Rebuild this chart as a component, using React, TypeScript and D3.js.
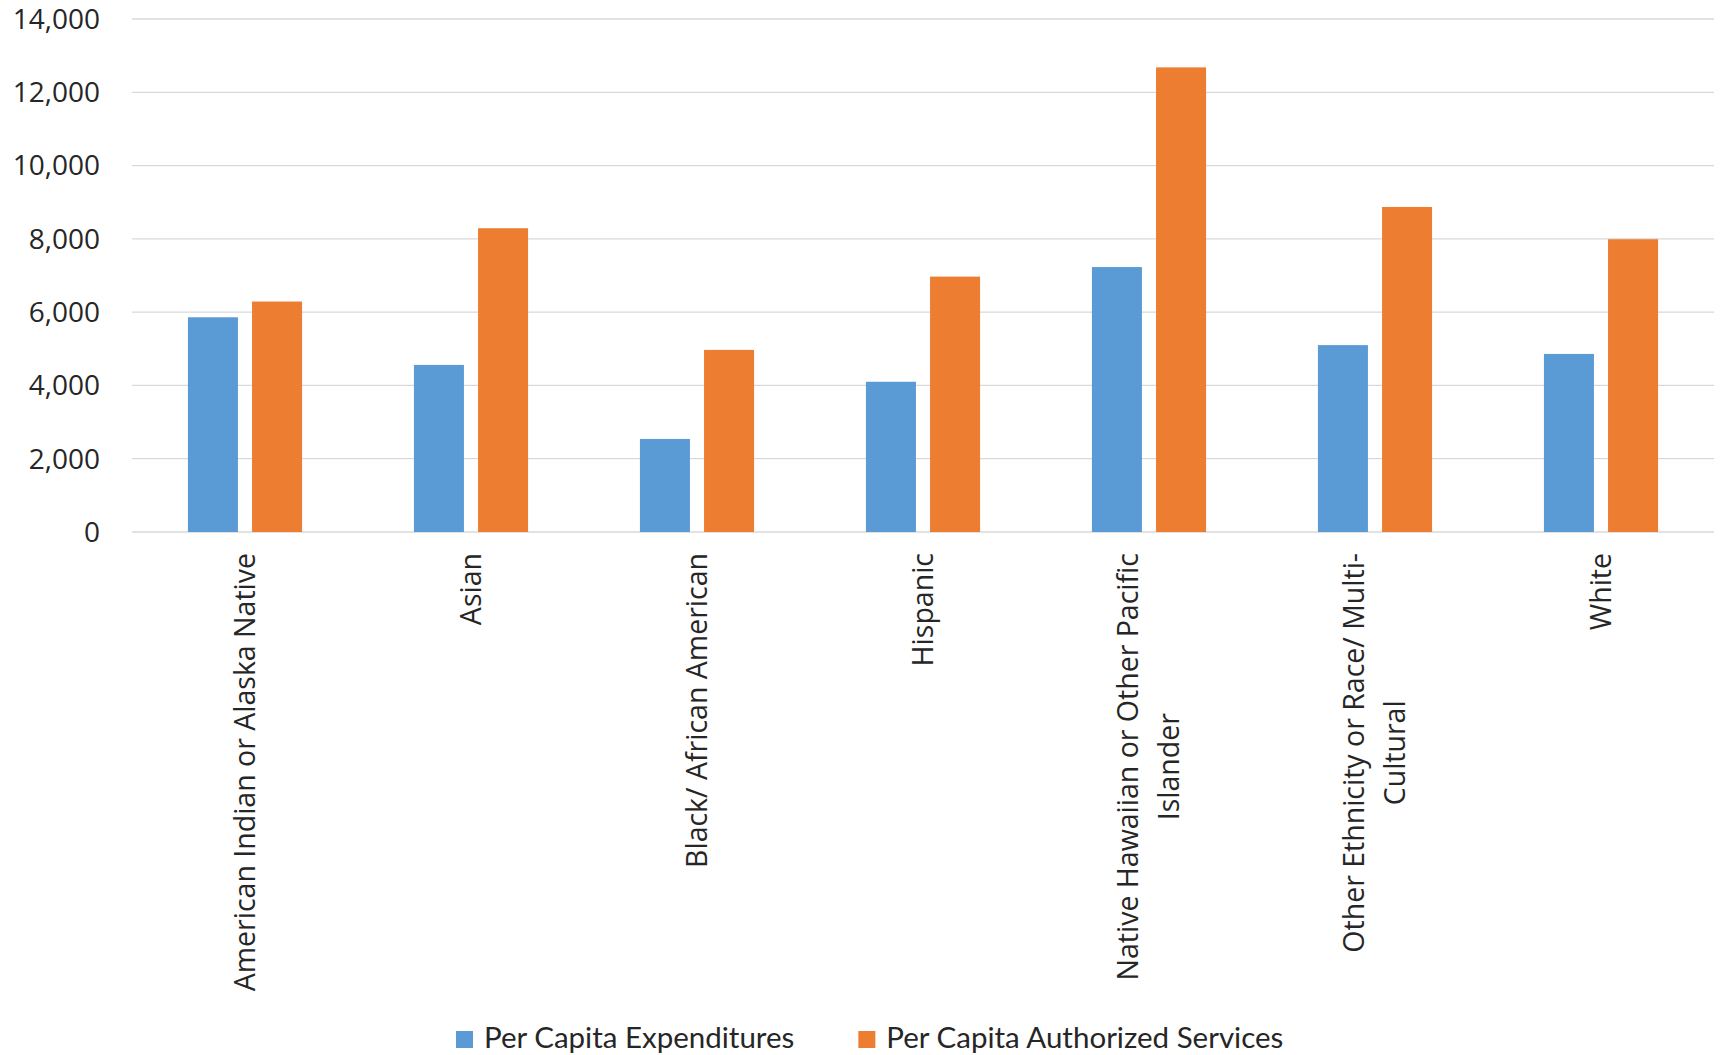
import { useEffect, useRef } from "react";
import * as d3 from "d3";

const categories = [
  ["American Indian or Alaska Native"],
  ["Asian"],
  ["Black/ African American"],
  ["Hispanic"],
  ["Native Hawaiian or Other Pacific", "Islander"],
  ["Other Ethnicity or Race/ Multi-", "Cultural"],
  ["White"],
];

const seriesNames = ["Per Capita Expenditures", "Per Capita Authorized Services"];
const expenditures = [5860, 4560, 2540, 4100, 7230, 5100, 4860];
const authorized = [6290, 8290, 4970, 6970, 12680, 8870, 7990];
const yTicks = [0, 2000, 4000, 6000, 8000, 10000, 12000, 14000];

const colors = ["#5B9BD5", "#ED7D31"];

const W = 1723;
const H = 1055;
const margin = { left: 132, right: 9, top: 19, bottom: 523 };

export default function App() {
  const ref = useRef<SVGSVGElement>(null);

  useEffect(() => {
    document.body.style.margin = "0";
    const svg = d3.select(ref.current);
    svg.selectAll("*").remove();

    const keys = categories.map((c) => c.join(" "));
    const x0 = d3.scaleBand<string>().domain(keys).range([margin.left, W - margin.right]).padding(0);
    const y = d3.scaleLinear().domain([0, 14000]).range([H - margin.bottom, margin.top]);

    const groupW = x0.bandwidth() * 0.505;
    const x1 = d3.scaleBand<number>().domain([0, 1]).range([0, groupW]).paddingInner(0.22);

    // gridlines
    svg.append("g")
      .selectAll("line")
      .data(yTicks)
      .join("line")
      .attr("x1", margin.left)
      .attr("x2", W - margin.right)
      .attr("y1", (d) => y(d))
      .attr("y2", (d) => y(d))
      .attr("stroke", "#d9d9d9")
      .attr("stroke-width", 1.3);

    // y labels
    svg.append("g")
      .selectAll("text")
      .data(yTicks)
      .join("text")
      .attr("x", 100)
      .attr("y", (d) => y(d))
      .attr("dy", "0.35em")
      .attr("text-anchor", "end")
      .attr("font-family", "'Open Sans', sans-serif")
      .attr("font-size", 28)
      .attr("fill", "#262626")
      .text((d) => d3.format(",")(d));

    // bars
    const series = [expenditures, authorized];
    series.forEach((vals, si) => {
      svg.append("g")
        .selectAll("rect")
        .data(vals)
        .join("rect")
        .attr("x", (_, i) => x0(keys[i])! + (x0.bandwidth() - groupW) / 2 + x1(si)!)
        .attr("width", x1.bandwidth())
        .attr("y", (d) => y(d))
        .attr("height", (d) => y(0) - y(d))
        .attr("fill", colors[si]);
    });

    // category labels, rotated, lines centred in a block hanging from the top
    const labelTop = 553;
    const lh = 41;
    categories.forEach((lines, i) => {
      const cx = x0(keys[i])! + x0.bandwidth() / 2;
      const g = svg.append("g").attr("transform", `translate(${cx},${labelTop}) rotate(-90)`);
      const texts = lines.map((line, li) =>
        g.append("text")
          .attr("y", (li - (lines.length - 1) / 2) * lh)
          .attr("dy", "0.35em")
          .attr("text-anchor", "middle")
          .attr("font-family", "'Open Sans', sans-serif")
          .attr("font-size", 28.5)
          .attr("fill", "#262626")
          .text(line)
      );
      const maxL = d3.max(texts, (t) => (t.node() as SVGTextElement).getComputedTextLength()) || 0;
      texts.forEach((t) => t.attr("x", -maxL / 2));
    });

    // legend
    const baseY = 1048;
    const lg = svg.append("g");
    let lx = 456;
    seriesNames.forEach((name, si) => {
      lg.append("rect")
        .attr("x", lx)
        .attr("y", baseY - 17)
        .attr("width", 17)
        .attr("height", 17)
        .attr("fill", colors[si]);
      const t = lg.append("text")
        .attr("x", lx + 28)
        .attr("y", baseY)
        .attr("font-family", "Lato, sans-serif")
        .attr("font-size", 29.5)
        .attr("fill", "#262626")
        .text(name);
      lx += 28 + (t.node() as SVGTextElement).getComputedTextLength() + 64;
    });
  }, []);

  return (
    <div style={{ position: "absolute", left: 0, top: 0 }}>
      <svg ref={ref} width={W} height={H} style={{ display: "block", background: "#fff" }} />
    </div>
  );
}
